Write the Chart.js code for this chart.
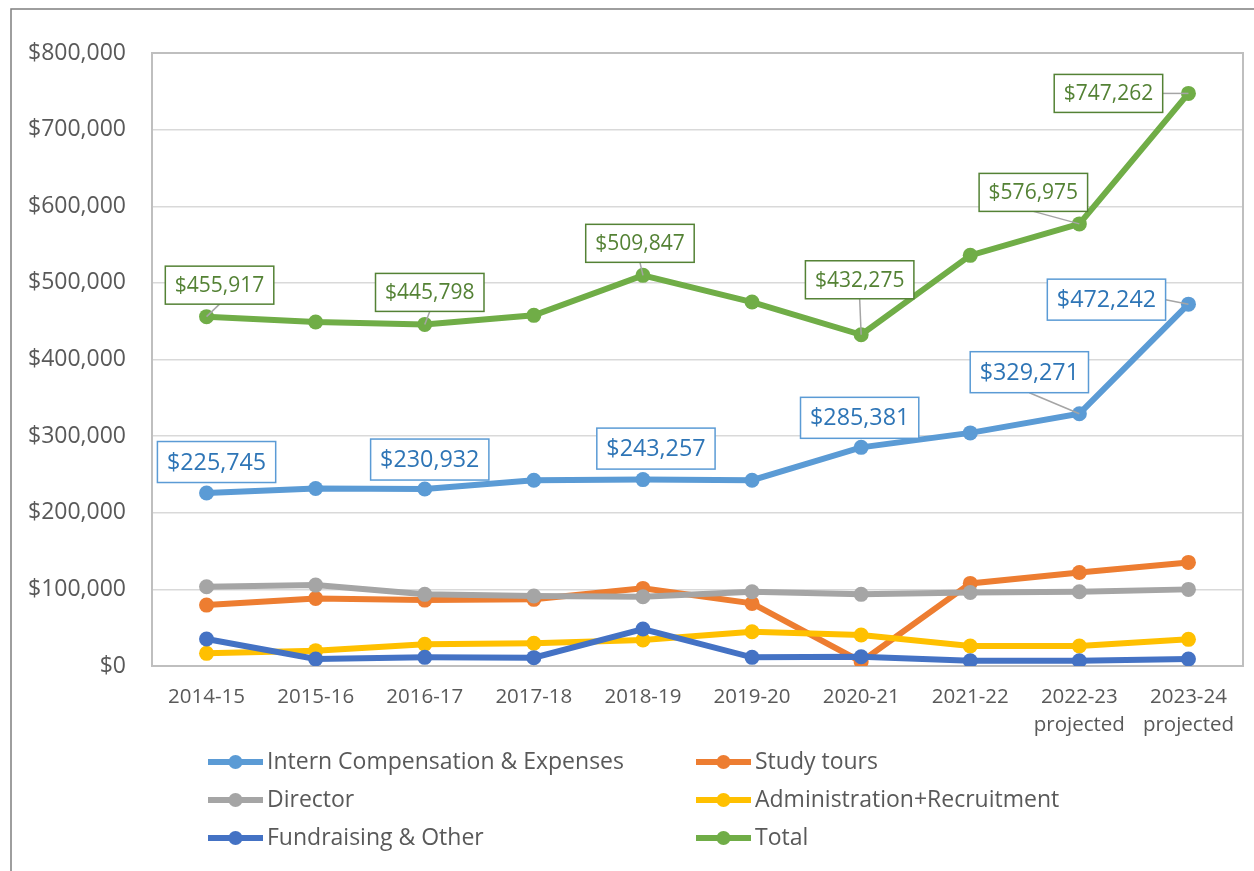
<!DOCTYPE html>
<html>
<head>
<meta charset="utf-8">
<script src="https://cdn.jsdelivr.net/npm/chart.js@4.4.0/dist/chart.umd.min.js"></script>
<style>
html,body{margin:0;padding:0;background:#ffffff;}
#wrap{width:1254px;height:871px;position:relative;}
canvas{display:block;}
</style>
</head>
<body>
<div id="wrap"><canvas id="c" width="1254" height="871"></canvas></div>
<script>
// ---- data ----
const categories = ['2014-15','2015-16','2016-17','2017-18','2018-19','2019-20','2020-21','2021-22',['2022-23','projected'],['2023-24','projected']];
const yTicks = [0,100000,200000,300000,400000,500000,600000,700000,800000];
const seriesNames = ['Intern Compensation & Expenses','Study tours','Director','Administration+Recruitment','Fundraising & Other','Total'];
const intern      = [225745, 231700, 230932, 242500, 243257, 242500, 285381, 304200, 329271, 472242];
const studyTours  = [79500, 88200, 86000, 87000, 101300, 81700, 5600, 107800, 122100, 135200];
const director    = [103400, 105600, 93500, 91300, 90400, 96900, 93500, 96000, 96900, 100000];
const admin       = [16500, 20000, 28300, 29600, 33900, 44700, 40400, 26100, 26100, 34800];
const fundraising = [35200, 9100, 11300, 10900, 48200, 11300, 12100, 6900, 6900, 9100];
const total       = [455917, 448900, 445798, 457600, 509847, 475000, 432275, 535900, 576975, 747262];
const labeledIdx  = [0, 2, 4, 6, 8, 9];

// ---- styles / label placement (kept separate from data) ----
const colors = ['#5B9BD5','#ED7D31','#A5A5A5','#FFC000','#4472C4','#70AD47'];
const FONT = "'Open Sans', sans-serif";
const TEXT = '#595959';
// offsets of label box centre from point, and leader anchor side
const totalLabelPos = [
  {dx: 13, dy: -31.5, leader: 'bottom'},
  {dx: 5, dy: -32, leader: 'bottom'},
  {dx: -3, dy: -32, leader: 'bottom'},
  {dx: -1.5, dy: -55, leader: 'bottom'},
  {dx: -46, dy: -31.5, leader: 'bottom'},
  {dx: -80, dy: 0, leader: 'right'}
];
const internLabelPos = [
  {dx: 10, dy: -31, leader: null},
  {dx: 5, dy: -29.5, leader: null},
  {dx: 13, dy: -31, leader: null},
  {dx: -1.5, dy: -29.5, leader: null},
  {dx: -50, dy: -41.5, leader: 'bottom'},
  {dx: -82, dy: -4.5, leader: 'right'}
];

const fmt = v => '$' + Math.round(v).toLocaleString('en-US');
const dataSets = [intern, studyTours, director, admin, fundraising, total];

const datasets = dataSets.map((d, i) => ({
  label: seriesNames[i],
  data: d,
  borderColor: colors[i],
  backgroundColor: colors[i],
  borderWidth: 6,
  pointRadius: 7.5,
  pointHoverRadius: 7.5,
  pointBorderWidth: 0,
  tension: 0,
  order: 5 - i
}));

const framePlugin = {
  id: 'frame',
  beforeDraw(chart) {
    const ctx = chart.ctx;
    ctx.save();
    ctx.fillStyle = '#ffffff';
    ctx.fillRect(0, 0, chart.width, chart.height);
    ctx.strokeStyle = '#7f7f7f';
    ctx.lineWidth = 1.5;
    ctx.beginPath();
    ctx.moveTo(11, chart.height);
    ctx.lineTo(11, 9);
    ctx.lineTo(chart.width, 9);
    ctx.stroke();
    ctx.restore();
  },
  beforeDatasetsDraw(chart) {
    const a = chart.chartArea, ctx = chart.ctx;
    ctx.save();
    ctx.strokeStyle = '#bfbfbf';
    ctx.lineWidth = 2;
    ctx.strokeRect(a.left, a.top, a.right - a.left, a.bottom - a.top);
    ctx.restore();
  }
};

function drawLabels(chart, dsIndex, specs, font, textColor, boxColor, boxH) {
  const ctx = chart.ctx;
  const meta = chart.getDatasetMeta(dsIndex);
  const data = chart.data.datasets[dsIndex].data;
  ctx.save();
  ctx.font = font;
  ctx.textAlign = 'center';
  ctx.textBaseline = 'middle';
  labeledIdx.forEach((idx, k) => {
    const p = meta.data[idx];
    const s = specs[k];
    const txt = fmt(data[idx]);
    const w = ctx.measureText(txt).width + 19;
    const cx = p.x + s.dx, cy = p.y + s.dy;
    const l = cx - w / 2, t = cy - boxH / 2;
    if (s.leader) {
      ctx.strokeStyle = '#a5a5a5';
      ctx.lineWidth = 1.5;
      ctx.beginPath();
      if (s.leader === 'bottom') ctx.moveTo(cx, t + boxH);
      else ctx.moveTo(l + w, cy);
      ctx.lineTo(p.x, p.y);
      ctx.stroke();
    }
    ctx.fillStyle = '#ffffff';
    ctx.fillRect(l, t, w, boxH);
    ctx.strokeStyle = boxColor;
    ctx.lineWidth = 1.5;
    ctx.strokeRect(l, t, w, boxH);
    ctx.fillStyle = textColor;
    ctx.fillText(txt, cx, cy + 1);
  });
  ctx.restore();
}

const labelPlugin = {
  id: 'labels',
  afterDatasetsDraw(chart) {
    drawLabels(chart, 5, totalLabelPos, "21px " + FONT, '#548235', '#548235', 38);
    drawLabels(chart, 0, internLabelPos, "23.3px " + FONT, '#2E75B6', '#5B9BD5', 41);
  }
};

const legendPlugin = {
  id: 'customLegend',
  afterDraw(chart) {
    const ctx = chart.ctx;
    const cols = [208, 696];
    const rows = [762, 800, 838];
    ctx.save();
    ctx.font = "23px " + FONT;
    ctx.textBaseline = 'middle';
    ctx.textAlign = 'left';
    chart.data.datasets.forEach((ds, i) => {
      const x = cols[i % 2], y = rows[Math.floor(i / 2)];
      ctx.strokeStyle = ds.borderColor;
      ctx.lineWidth = 6;
      ctx.beginPath();
      ctx.moveTo(x, y);
      ctx.lineTo(x + 55, y);
      ctx.stroke();
      ctx.fillStyle = ds.borderColor;
      ctx.beginPath();
      ctx.arc(x + 27.5, y, 7, 0, Math.PI * 2);
      ctx.fill();
      ctx.fillStyle = TEXT;
      ctx.fillText(ds.label, x + 59, y);
    });
    ctx.restore();
  }
};

new Chart(document.getElementById('c'), {
  type: 'line',
  data: { labels: categories, datasets },
  options: {
    responsive: false,
    devicePixelRatio: 1,
    animation: false,
    events: [],
    layout: { padding: { top: 53, right: 11, left: 0, bottom: 0 } },
    plugins: { legend: { display: false }, tooltip: { enabled: false }, title: { display: false } },
    scales: {
      x: {
        offset: true,
        grid: { display: false, drawTicks: false },
        border: { display: true, color: '#bfbfbf', width: 2 },
        ticks: { color: TEXT, font: { family: FONT, size: 20.5, lineHeight: 1.37 }, padding: 17, maxRotation: 0, autoSkip: false },
        afterFit(scale) { scale.height = 205; }
      },
      y: {
        min: 0, max: 800000,
        afterBuildTicks(scale) { scale.ticks = yTicks.map(v => ({ value: v })); },
        grid: { color: '#d9d9d9', lineWidth: 1.5, drawTicks: false },
        border: { display: true, color: '#bfbfbf', width: 2 },
        ticks: { color: TEXT, font: { family: FONT, size: 23 }, padding: 26, callback: v => fmt(v) },
        afterFit(scale) { scale.width = 152; }
      }
    }
  },
  plugins: [framePlugin, labelPlugin, legendPlugin]
});
</script>
</body>
</html>
